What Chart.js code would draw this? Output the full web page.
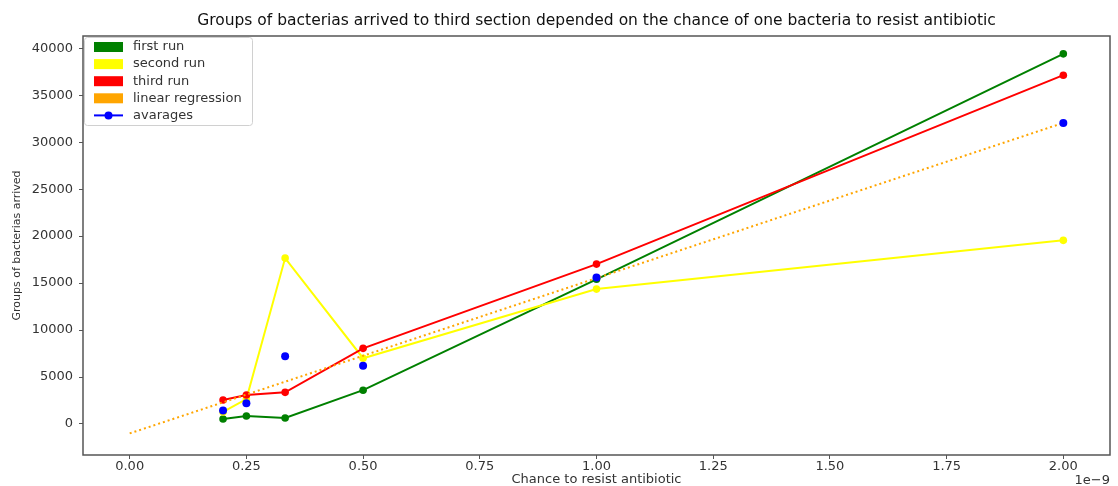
<!DOCTYPE html>
<html>
<head>
<meta charset="utf-8">
<script src="https://cdn.jsdelivr.net/npm/chart.js@4"></script>
<style>
	html, body { margin: 0; padding: 0; background: #fff; }
	#wrap { width: 1118px; height: 486px; }
</style>
</head>
<body>
<div id="wrap"><canvas id="bactChart" width="1118" height="486"></canvas></div>
<script>
// chance to resist antibiotic (x 1e-9)
const chances = [0.2, 0.25, 0.333, 0.5, 1.0, 2.0];
const firstRun = [530, 850, 640, 3600, 15400, 39400];
const secondRun = [1280, 2660, 17660, 7000, 14360, 19550];
const thirdRun = [2550, 3080, 3370, 8050, 17020, 37130];
const averages = [1450, 2200, 7220, 6200, 15590, 32030];
const regressionX = [0, 2.0];
const regressionY = [-1000, 32050];
const xTicks = [0, 0.25, 0.5, 0.75, 1.0, 1.25, 1.5, 1.75, 2.0];
const yTicks = [0, 5000, 10000, 15000, 20000, 25000, 30000, 35000, 40000];

const FONT = 'DejaVu Sans';
const AXIS_COLOR = '#555';
const TEXT_COLOR = '#333';

const toPoints = (xs, ys) => xs.map((x, i) => ({ x: x, y: ys[i] }));

const runSet = (label, values, color, order) => ({
	label: label,
	data: toPoints(chances, values),
	borderColor: color,
	backgroundColor: color,
	pointBackgroundColor: color,
	pointBorderColor: color,
	pointRadius: 3.8,
	pointBorderWidth: 0,
	borderWidth: 2,
	showLine: true,
	order: order,
	legendType: 'patch'
});

// draws the frame, the offset text and the matplotlib-like legend
const extrasPlugin = {
	id: 'extras',
	afterDraw(chart) {
		const ctx = chart.ctx;
		const area = chart.chartArea;
		ctx.save();
		ctx.strokeStyle = AXIS_COLOR;
		ctx.lineWidth = 1.5;
		ctx.strokeRect(area.left, area.top, area.right - area.left, area.bottom - area.top);

		ctx.fillStyle = TEXT_COLOR;
		ctx.font = '13px "' + FONT + '"';
		ctx.textAlign = 'right';
		ctx.textBaseline = 'middle';
		ctx.fillText('1e\u22129', area.right, 481);

		// legend
		const lx = 84, ly = 37, lw = 168, lh = 88;
		ctx.fillStyle = 'rgba(255,255,255,0.85)';
		ctx.strokeStyle = '#d0d0d0';
		ctx.lineWidth = 1;
		ctx.beginPath();
		ctx.roundRect(lx + 0.5, ly + 0.5, lw, lh, 3);
		ctx.fill();
		ctx.stroke();

		const sets = chart.data.datasets;
		ctx.textAlign = 'left';
		sets.forEach((ds, i) => {
			const cy = 47 + i * 17.1;
			if (ds.legendType === 'patch') {
				ctx.fillStyle = ds.borderColor;
				ctx.fillRect(94, cy - 5, 29, 10);
			} else {
				ctx.strokeStyle = ds.borderColor;
				ctx.lineWidth = 2;
				ctx.beginPath();
				ctx.moveTo(94, cy);
				ctx.lineTo(123, cy);
				ctx.stroke();
				ctx.fillStyle = ds.borderColor;
				ctx.beginPath();
				ctx.arc(108.5, cy, 4, 0, Math.PI * 2);
				ctx.fill();
			}
			ctx.fillStyle = TEXT_COLOR;
			ctx.fillText(ds.label, 133, cy);
		});
		ctx.restore();
	}
};

new Chart(document.getElementById('bactChart').getContext('2d'), {
	type: 'scatter',
	data: {
		datasets: [
			runSet('first run', firstRun, '#008000', 5),
			runSet('second run', secondRun, '#ffff00', 4),
			runSet('third run', thirdRun, '#ff0000', 3),
			{
				label: 'linear regression',
				data: toPoints(regressionX, regressionY),
				borderColor: '#ffa500',
				backgroundColor: '#ffa500',
				borderWidth: 2,
				borderDash: [2, 3],
				pointRadius: 0,
				showLine: true,
				order: 2,
				legendType: 'patch'
			},
			{
				label: 'avarages',
				data: toPoints(chances, averages),
				borderColor: '#0000ff',
				backgroundColor: '#0000ff',
				pointBackgroundColor: '#0000ff',
				pointBorderWidth: 0,
				pointRadius: 4,
				showLine: false,
				order: 1,
				legendType: 'line'
			}
		]
	},
	options: {
		responsive: false,
		animation: false,
		layout: { padding: { left: 0, right: 8, top: 0, bottom: 0 } },
		plugins: {
			legend: { display: false },
			tooltip: { enabled: false },
			title: {
				display: true,
				fullSize: false,
				text: 'Groups of bacterias arrived to third section depended on the chance of one bacteria to resist antibiotic',
				color: '#111',
				font: { family: FONT, size: 15.5, weight: 'normal', lineHeight: 1.2 },
				padding: { top: 12, bottom: 5.4 }
			}
		},
		scales: {
			x: {
				type: 'linear',
				min: -0.1,
				max: 2.1,
				afterBuildTicks: (scale) => { scale.ticks = xTicks.map(v => ({ value: v })); },
				afterFit: (scale) => { scale.height = 31; },
				grid: { display: true, drawOnChartArea: false, drawTicks: true, tickLength: 4, color: AXIS_COLOR, lineWidth: 1 },
				border: { display: false },
				ticks: {
					color: TEXT_COLOR,
					font: { family: FONT, size: 13 },
					padding: 0,
					maxRotation: 0,
					autoSkip: false,
					callback: (v) => Number(v).toFixed(2)
				},
				title: {
					display: true,
					text: 'Chance to resist antibiotic',
					color: TEXT_COLOR,
					font: { family: FONT, size: 13, lineHeight: 1 },
					padding: 0
				}
			},
			y: {
				type: 'linear',
				min: -3300,
				max: 41300,
				afterBuildTicks: (scale) => { scale.ticks = yTicks.map(v => ({ value: v })); },
				afterFit: (scale) => { scale.width = 83; },
				grid: { display: true, drawOnChartArea: false, drawTicks: true, tickLength: 4, color: AXIS_COLOR, lineWidth: 1 },
				border: { display: false },
				ticks: {
					color: TEXT_COLOR,
					font: { family: FONT, size: 13 },
					padding: 6,
					autoSkip: false,
					callback: (v) => String(v)
				},
				title: {
					display: true,
					text: 'Groups of bacterias arrived',
					color: TEXT_COLOR,
					font: { family: FONT, size: 11, lineHeight: 1 },
					padding: { top: 12, bottom: 0 }
				}
			}
		}
	},
	plugins: [extrasPlugin]
});
</script>
</body>
</html>
